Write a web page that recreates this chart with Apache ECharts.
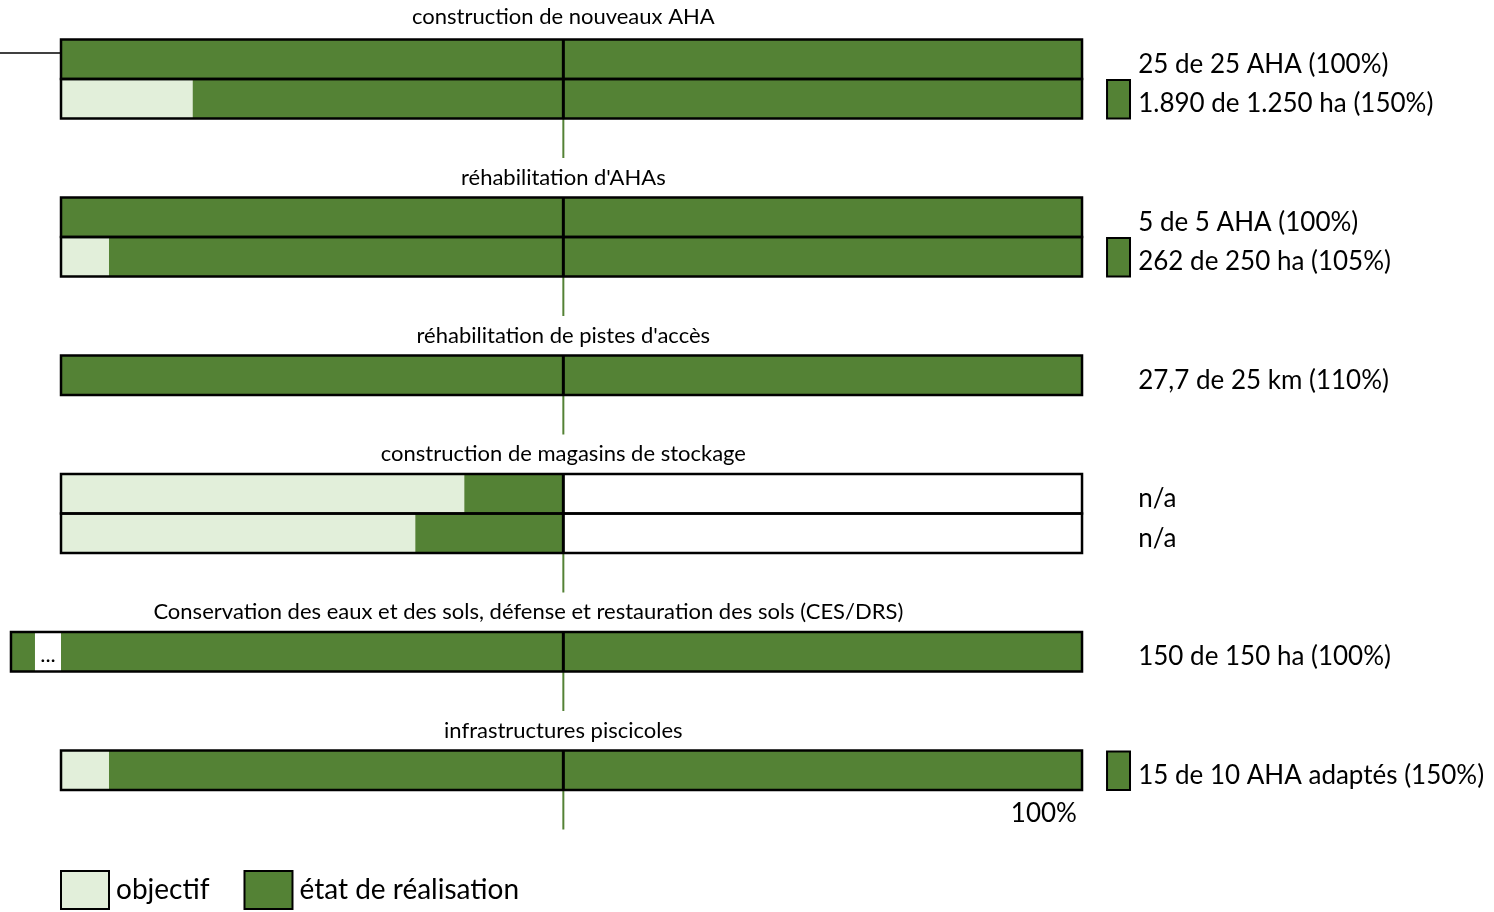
<!DOCTYPE html>
<html><head><meta charset="utf-8">
<script src="https://cdn.jsdelivr.net/npm/echarts@6/dist/echarts.min.js"></script>
<style>html,body{margin:0;padding:0;background:#fff}#c{width:1494px;height:912px}</style>
</head><body><div id="c"></div>
<script>
// slot rows (top to bottom): t = title, r = bar row, g = gap
const slots = ['t1','r1a','r1b','g1','t2','r2a','r2b','g2','t3','r3','g3','t4','r4a','r4b','g4','t5','r5','g5','t6','r6','g6'];
// group titles and their slots
const titles = [
  ['construction de nouveaux AHA', 0],
  ["réhabilitation d'AHAs", 4],
  ["réhabilitation de pistes d'accès", 8],
  ['construction de magasins de stockage', 11],
  ['Conservation des eaux et des sols, défense et restauration des sols (CES/DRS)', 15],
  ['infrastructures piscicoles', 18]
];
// bar segments per slot (scale: 0 = left edge, 100 = right edge of the bar)
const objectif    = [null,0,12.9,null,null,0,4.7,null,null,0,null,null,39.5,34.7,null,null,0,null,null,4.7,null];
const realisation = [null,100,87.1,null,null,100,95.3,null,null,100,null,null,9.7,14.5,null,null,100,null,null,95.3,null];
const reste       = [null,0,0,null,null,0,0,null,null,0,null,null,50.8,50.8,null,null,0,null,null,0,null];
const coupure     = [null,null,null,null,null,null,null,null,null,null,null,null,null,null,null,null,-2.55,null,null,null,null];
const avantCoupure= [null,null,null,null,null,null,null,null,null,null,null,null,null,null,null,null,-2.35,null,null,null,null];
// right-hand labels per bar row: [slot, text, over-achievement flag]
const rowLabels = [
  [1,'25 de 25 AHA (100%)',0],
  [2,'1.890 de 1.250 ha (150%)',1],
  [5,'5 de 5 AHA (100%)',0],
  [6,'262 de 250 ha (105%)',1],
  [9,'27,7 de 25 km (110%)',0],
  [12,'n/a',0],
  [13,'n/a',0],
  [16,'150 de 150 ha (100%)',0],
  [19,'15 de 10 AHA adaptés (150%)',1]
];
const gapSlots = [3,7,10,14,17,20];
const midValue = 49.2;
const scaleLabel = '100%';

const DARK = '#548235', LIGHT = '#E2EFDA', FONT = 'Lato';
const titleShiftPx = {15:-35};
const chart = echarts.init(document.getElementById('c'), null, {renderer:'canvas'});

const frameData = rowLabels.map(r => {
  const s = r[0];
  const start = (avantCoupure[s] != null) ? (coupure[s] + avantCoupure[s]) : 0;
  const end = (objectif[s]||0) + (realisation[s]||0) + (reste[s]||0);
  return [start, end, s, r[2], r[1], coupure[s] != null ? coupure[s] : 0];
});

chart.setOption({
  animation:false,
  grid:{left:0, right:0, top:0, height:21*39.5},
  xAxis:{type:'value', min:-5.975, max:140.35, show:false},
  yAxis:{type:'category', data:slots, inverse:true, show:false},
  legend:{
    left:60, top:870, padding:0, itemWidth:48, itemHeight:38, itemGap:34, icon:'rect',
    data:['objectif','état de réalisation'],
    itemStyle:{borderColor:'#000', borderWidth:2},
    textStyle:{fontFamily:FONT, fontSize:28, color:'#000', padding:[0,0,0,2]}
  },
  series:[
    {name:'objectif', type:'bar', stack:'a', barCategoryGap:'0%', data:objectif, itemStyle:{color:LIGHT}},
    {name:'état de réalisation', type:'bar', stack:'a', data:realisation, itemStyle:{color:DARK}},
    {name:'reste', type:'bar', stack:'a', data:reste, itemStyle:{color:'#fff'}},
    {name:'coupure', type:'bar', stack:'a', data:coupure, itemStyle:{color:'#fff'}},
    {name:'avant', type:'bar', stack:'a', data:avantCoupure, itemStyle:{color:DARK}},
    {
      name:'frame', type:'custom', z:5, data:frameData,
      renderItem:function(params, api){
        const slot = api.value(2);
        const a = api.coord([api.value(0), slot]);
        const b = api.coord([api.value(1), slot]);
        const h = api.size([0,1])[1];
        const m = api.coord([midValue, slot]);
        const children = [
          {type:'rect', shape:{x:a[0], y:a[1]-h/2, width:b[0]-a[0], height:h}, style:{fill:null, stroke:'#000', lineWidth:2.5}},
          {type:'line', shape:{x1:m[0], y1:a[1]-h/2, x2:m[0], y2:a[1]+h/2}, style:{stroke:'#000', lineWidth:3}},
          {type:'text', x:api.coord([105.5, slot])[0], y:a[1]+5, style:{text:api.value(4), fontFamily:FONT, fontSize:26, fill:'#000', align:'left', verticalAlign:'middle'}}
        ];
        if (api.value(3)) {
          const q1 = api.coord([102.45, slot]), q2 = api.coord([104.7, slot]);
          children.push({type:'rect', shape:{x:q1[0], y:a[1]-h/2+1, width:q2[0]-q1[0], height:h-1}, style:{fill:DARK, stroke:'#000', lineWidth:2}});
        }
        if (api.value(5) < 0) {
          const g = api.coord([api.value(5)/2, slot]);
          children.push({type:'text', x:g[0], y:a[1]+3, style:{text:'...', fontFamily:FONT, fontSize:22, fill:'#000', align:'center', verticalAlign:'middle'}});
        }
        return {type:'group', children:children};
      }
    },
    {
      name:'stubs', type:'custom', z:4, data:gapSlots.map(s=>[midValue, s]),
      renderItem:function(params, api){
        const p = api.coord([api.value(0), api.value(1)]);
        const h = api.size([0,1])[1];
        return {type:'line', shape:{x1:p[0], y1:p[1]-h/2, x2:p[0], y2:p[1]+h/2}, style:{stroke:DARK, lineWidth:2}};
      }
    },
    {
      name:'titles', type:'custom', z:4, data:titles.map(t=>[midValue, t[1], t[0]]),
      renderItem:function(params, api){
        const slot = api.value(1);
        const p = api.coord([api.value(0), slot]);
        const dy = slot === 0 ? -3 : 0;
        return {type:'text', x:p[0] + (titleShiftPx[slot] || 0), y:p[1]+dy, style:{text:api.value(2), fontFamily:FONT, fontSize:22, fill:'#000', align:'center', verticalAlign:'middle'}};
      }
    },
    {
      name:'scale', type:'custom', z:4, data:[[99.5, 20, scaleLabel]],
      renderItem:function(params, api){
        const p = api.coord([api.value(0), api.value(1)]);
        return {type:'text', x:p[0], y:p[1]+4, style:{text:api.value(2), fontFamily:FONT, fontSize:26, fill:'#000', align:'right', verticalAlign:'middle'}};
      }
    }
  ],
  graphic:[{type:'line', shape:{x1:0, y1:53, x2:61, y2:53}, style:{stroke:'#000', lineWidth:1.5}}]
});
</script></body></html>
